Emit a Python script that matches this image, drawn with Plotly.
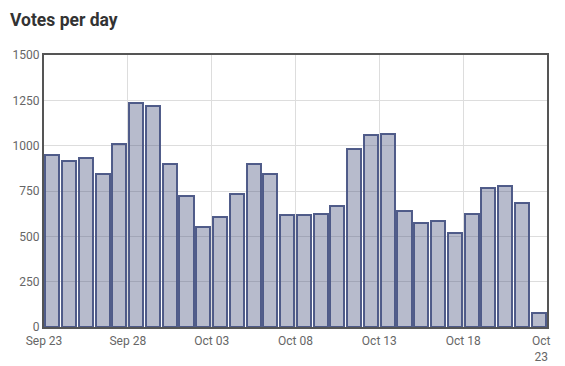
import plotly.graph_objects as go
import pandas as pd

start_date = "2019-09-23"
votes = [950, 915, 930, 845, 1010, 1235, 1220, 900, 720, 550,
         605, 735, 900, 845, 615, 620, 625, 665, 980, 1060,
         1065, 640, 575, 585, 520, 625, 765, 775, 685, 75]
tick_dates = ["2019-09-23", "2019-09-28", "2019-10-03", "2019-10-08",
              "2019-10-13", "2019-10-18", "2019-10-23"]
tick_labels = ["Sep 23", "Sep 28", "Oct 03", "Oct 08", "Oct 13", "Oct 18", "Oct<br>23"]
y_ticks = [0, 250, 500, 750, 1000, 1250, 1500]

days = pd.date_range(start_date, periods=len(votes), freq="D")
centers = days + pd.Timedelta(hours=12)

fig = go.Figure(go.Bar(
    x=centers, y=votes,
    width=86400000 * 0.84,
    marker=dict(color="rgba(74,85,128,0.4)",
                line=dict(color="rgba(72,84,132,0.95)", width=2)),
    hoverinfo="x+y",
))

fig.update_layout(
    width=565, height=366,
    margin=dict(l=44, r=18, t=55, b=39),
    paper_bgcolor="white", plot_bgcolor="white",
    font=dict(family="Roboto", color="#666", size=12),
    title=dict(text="<b>Votes per day</b>", x=10 / 565, xanchor="left",
               y=1 - 20 / 366, yanchor="middle",
               font=dict(family="Roboto", size=17.5, color="#333")),
    showlegend=False,
    bargap=0,
)
fig.update_xaxes(
    type="date", automargin=False,
    range=[pd.Timestamp("2019-09-23"), pd.Timestamp("2019-10-23")],
    tickvals=pd.to_datetime(tick_dates[:-1]), ticktext=tick_labels[:-1],
    showgrid=True, gridcolor="#dddddd", gridwidth=1,
    showline=True, linecolor="#555", linewidth=2, mirror=True,
    ticks="", ticklabelstandoff=2, tickfont=dict(size=12, color="#666"),
)
fig.update_yaxes(
    range=[0, 1500], tickvals=y_ticks, automargin=False,
    showgrid=True, gridcolor="#dddddd", gridwidth=1,
    showline=True, linecolor="#555", linewidth=2, mirror=True,
    zeroline=False, ticks="", ticklen=0,
    tickfont=dict(size=12, color="#666"),
)
# last tick label, wrapped and pulled inside like the reference
fig.add_annotation(
    x=pd.Timestamp(tick_dates[-1]), y=0, xref="x", yref="paper",
    text=tick_labels[-1], showarrow=False, xanchor="center", yanchor="top",
    xshift=-6, yshift=-5, align="center",
    font=dict(size=12, color="#666", family="Roboto"),
)

fig.write_html("out.html", config={"displayModeBar": False},
               post_script="document.body.style.margin='0';window.dispatchEvent(new Event('resize'));")
